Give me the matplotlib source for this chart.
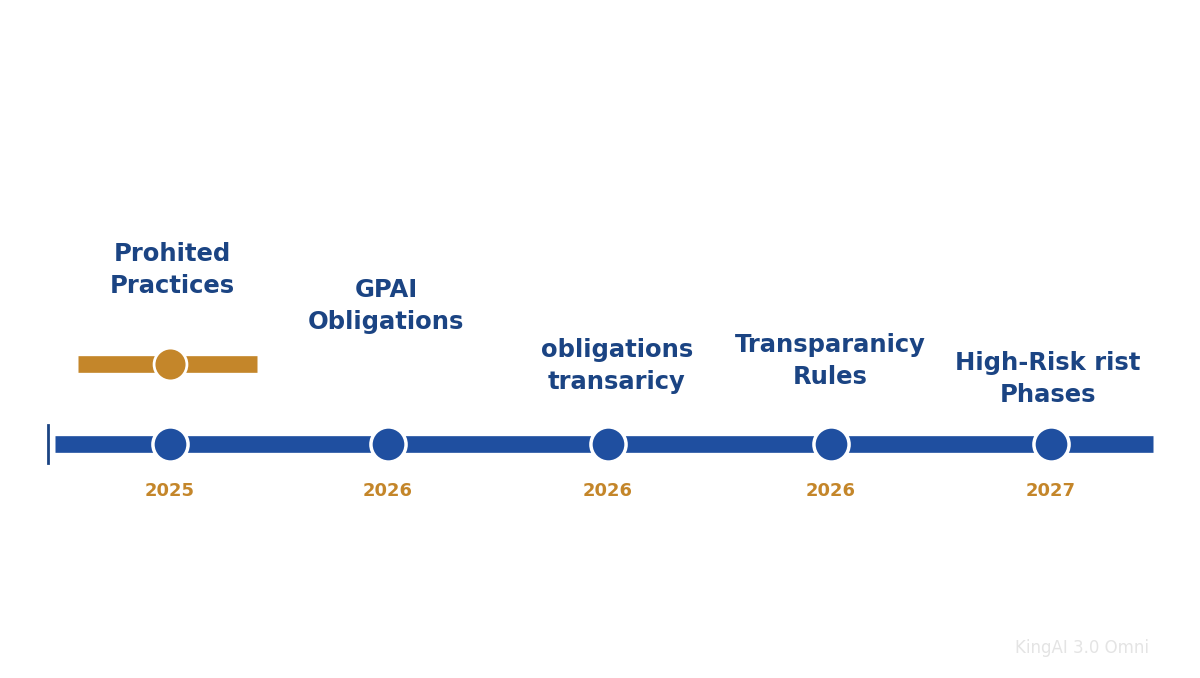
import matplotlib.pyplot as plt

# Timeline data
years = ['2025', '2026', '2026', '2026', '2027']
labels = ['Prohited\nPractices', 'GPAI\nObligations', 'obligations\ntransaricy',
          'Transparanicy\nRules', 'High-Risk rist\nPhases']
xpos = [170, 388, 608, 831, 1051]
label_x = [172, 386, 617, 830, 1048]
label_y = [270, 306, 366, 361, 379]

blue = '#1F4FA0'
navy = '#1B4483'
gold = '#C4862A'

fig = plt.figure(figsize=(12, 6.78), dpi=100)
ax = fig.add_axes([0, 0, 1, 1])
ax.set_xlim(0, 1200)
ax.set_ylim(678, 0)
ax.axis('off')

# main line
ax.plot([55, 1153], [444, 444], color=blue, lw=12, solid_capstyle='butt', zorder=1)
ax.plot([48, 48], [425, 463], color=navy, lw=2, zorder=1)

# highlight bar for first item
ax.plot([78, 257], [364, 364], color=gold, lw=12, solid_capstyle='butt', zorder=1)
ax.scatter([xpos[0]], [364], s=560, color=gold, edgecolors='white', linewidths=2, zorder=3)

ax.scatter(xpos, [444] * len(xpos), s=640, color=blue, edgecolors='white', linewidths=2.5, zorder=3)

for x, y in zip(xpos, years):
    ax.text(x, 491, y, ha='center', va='center', color=gold, fontsize=13, fontweight='bold')

for x, y, t in zip(label_x, label_y, labels):
    ax.text(x, y, t, ha='center', va='center', color=navy, fontsize=17.5,
            fontweight='bold', linespacing=1.45)

ax.text(1015, 648, 'KingAI 3.0 Omni', ha='left', va='center', color='#E4E4E4', fontsize=12)

fig.savefig('out.png', dpi=100)
